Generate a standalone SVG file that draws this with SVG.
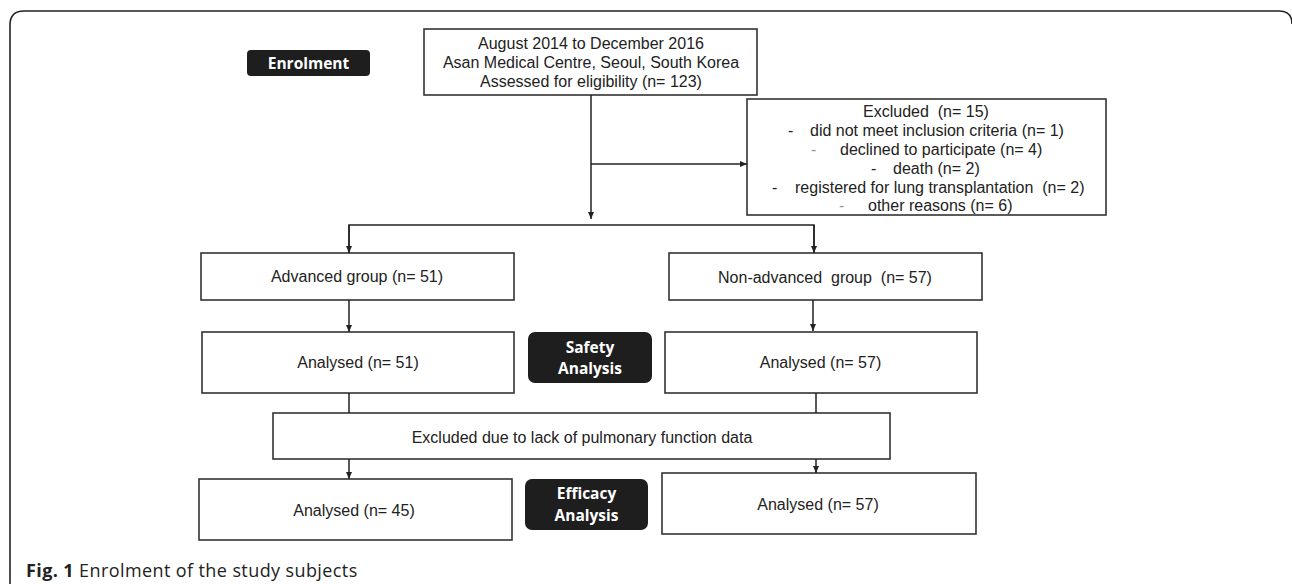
<svg xmlns="http://www.w3.org/2000/svg" width="1292" height="584" viewBox="0 0 1292 584">
<defs>
<marker id="ah" markerWidth="8" markerHeight="8" refX="7" refY="4" orient="auto" markerUnits="userSpaceOnUse">
<path d="M0,1 L7,4 L0,7 Z" fill="#222"/>
</marker>
<style>
.box{fill:#fff;stroke:#333;stroke-width:1.6}
.t{font-family:"Liberation Sans",Arial,sans-serif;font-size:16px;fill:#222}
.c{text-anchor:middle}
.badge{fill:#1e1e1e}
.bt{font-family:"Open Sans","Noto Sans",sans-serif;font-weight:700;font-size:15.5px;fill:#fff;text-anchor:middle}
.ln{fill:none;stroke:#222;stroke-width:1.5}
.dash{fill:#999}
</style>
</defs>
<rect width="1292" height="584" fill="#fff"/>
<path d="M10,584 V25 Q10,11 24,11 H1279 Q1292,11 1292,24" fill="none" stroke="#222" stroke-width="1.6"/>

<g id="enrolment-badge">
<rect class="badge" x="247" y="50" width="123" height="26" rx="4"/>
<text class="bt" x="308.5" y="68.5" font-size="15">Enrolment</text>
</g>

<g id="assessed">
<rect class="box" x="424" y="29" width="333" height="66"/>
<text class="t c" x="591" y="49">August 2014 to December 2016</text>
<text class="t c" x="591" y="68">Asan Medical Centre, Seoul, South Korea</text>
<text class="t c" x="591" y="87">Assessed for eligibility (n= 123)</text>
</g>

<g id="excluded">
<rect class="box" x="747" y="99" width="359" height="116"/>
<text class="t c" x="926" y="116.5" xml:space="preserve">Excluded  (n= 15)</text>
<text class="t" x="788" y="135.5">-</text>
<text class="t" x="810" y="135.5">did not meet inclusion criteria (n= 1)</text>
<text class="t dash" x="811" y="154.5" font-size="13">-</text>
<text class="t" x="840" y="154.5">declined to participate (n= 4)</text>
<text class="t" x="871" y="174">-</text>
<text class="t" x="893" y="174">death (n= 2)</text>
<text class="t" x="772" y="192.5">-</text>
<text class="t" x="795" y="192.5" xml:space="preserve">registered for lung transplantation  (n= 2)</text>
<text class="t dash" x="839" y="211" font-size="13">-</text>
<text class="t" x="868" y="211">other reasons (n= 6)</text>
</g>

<g id="advanced">
<rect class="box" x="201" y="253" width="313" height="47"/>
<text class="t c" x="357" y="282">Advanced group (n= 51)</text>
</g>

<g id="non-advanced">
<rect class="box" x="669" y="253" width="313" height="47"/>
<text class="t c" x="825" y="283" xml:space="preserve">Non-advanced  group  (n= 57)</text>
</g>

<g id="analysed-adv-safety">
<rect class="box" x="202" y="332" width="312" height="61"/>
<text class="t c" x="358" y="368">Analysed (n= 51)</text>
</g>

<g id="safety-badge">
<rect class="badge" x="528" y="332" width="124" height="51" rx="7"/>
<text class="bt" x="590" y="353">Safety</text>
<text class="bt" x="590" y="374">Analysis</text>
</g>

<g id="analysed-non-safety">
<rect class="box" x="665" y="332" width="312" height="61"/>
<text class="t c" x="820.5" y="368">Analysed (n= 57)</text>
</g>

<g id="excluded-pft">
<rect class="box" x="273" y="413" width="617" height="46"/>
<text class="t c" x="582" y="443">Excluded due to lack of pulmonary function data</text>
</g>

<g id="analysed-adv-efficacy">
<rect class="box" x="199" y="479" width="313" height="61"/>
<text class="t c" x="354" y="516">Analysed (n= 45)</text>
</g>

<g id="efficacy-badge">
<rect class="badge" x="525" y="479" width="123" height="51" rx="7"/>
<text class="bt" x="586.5" y="499">Efficacy</text>
<text class="bt" x="586.5" y="521">Analysis</text>
</g>

<g id="analysed-non-efficacy">
<rect class="box" x="662" y="473" width="314" height="61"/>
<text class="t c" x="818" y="510">Analysed (n= 57)</text>
</g>

<g id="connectors">
<line class="ln" x1="591" y1="95" x2="591" y2="219" marker-end="url(#ah)"/>
<line class="ln" x1="591" y1="164" x2="747" y2="164" marker-end="url(#ah)"/>
<polyline class="ln" points="349,253 349,225 814,225 814,253"/>
<line class="ln" x1="349" y1="225" x2="349" y2="253" marker-end="url(#ah)"/>
<line class="ln" x1="814" y1="225" x2="814" y2="253" marker-end="url(#ah)"/>
<line class="ln" x1="349" y1="300" x2="349" y2="332" marker-end="url(#ah)"/>
<line class="ln" x1="813" y1="300" x2="813" y2="331" marker-end="url(#ah)"/>
<line class="ln" x1="349" y1="393" x2="349" y2="413"/>
<line class="ln" x1="816" y1="393" x2="816" y2="413"/>
<line class="ln" x1="349" y1="459" x2="349" y2="479" marker-end="url(#ah)"/>
<line class="ln" x1="816" y1="459" x2="816" y2="473" marker-end="url(#ah)"/>
</g>

<text x="26" y="577" font-family="'Open Sans','Noto Sans',sans-serif" font-size="18" letter-spacing="0.4" fill="#222"><tspan font-weight="700">Fig. 1</tspan> Enrolment of the study subjects</text>
</svg>
